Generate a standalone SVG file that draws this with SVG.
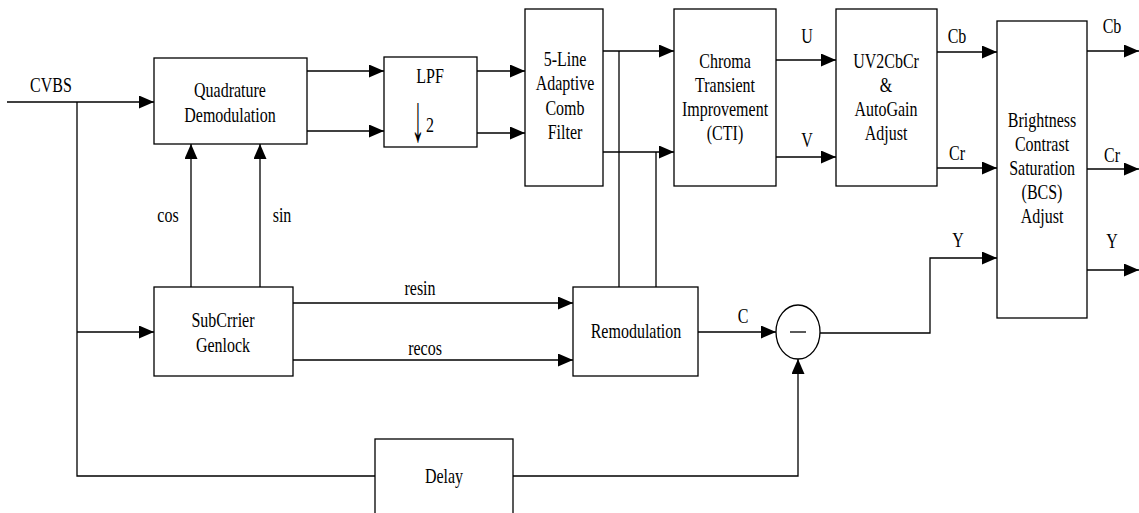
<svg xmlns="http://www.w3.org/2000/svg" width="1139" height="513" viewBox="0 0 1139 513">
<style>
.box{fill:#fff;stroke:#000;stroke-width:1.3}
.ln{fill:none;stroke:#000;stroke-width:1.3}
.arr{fill:none;stroke:#000;stroke-width:1.3;marker-end:url(#ah)}
text{font-family:"Liberation Serif","Times New Roman",serif;font-size:16px;fill:#000;text-anchor:middle}
.sym{font-size:52px}
</style>
<defs>
<marker id="ah" markerUnits="userSpaceOnUse" markerWidth="16" markerHeight="14" refX="15" refY="6.5" orient="auto">
<path d="M0,0 L15,6.5 L0,13 z" fill="#000"/>
</marker>
</defs>
<rect width="1139" height="513" fill="#fff"/>
<g id="connectors">
<path class="arr" d="M7,102 H154"/>
<path class="ln" d="M77,102 V476 H375"/>
<path class="arr" d="M77,332 H154"/>
<path class="arr" d="M513,476 H798 V359"/>
<path class="arr" d="M307,71 H384"/>
<path class="arr" d="M307,131 H384"/>
<path class="arr" d="M477,71 H525"/>
<path class="arr" d="M477,133 H525"/>
<path class="arr" d="M603,51 H674"/>
<path class="arr" d="M603,152 H674"/>
<path class="ln" d="M619,51 V287"/>
<path class="ln" d="M656,152 V287"/>
<path class="arr" d="M191,287 V144"/>
<path class="arr" d="M260,287 V144"/>
<path class="arr" d="M293,303 H573"/>
<path class="arr" d="M293,360 H573"/>
<path class="arr" d="M698,332 H776"/>
<path class="arr" d="M820,333 H930 V258 H997"/>
<path class="arr" d="M776,60 H836"/>
<path class="arr" d="M776,157 H836"/>
<path class="arr" d="M937,52 H997"/>
<path class="arr" d="M937,168 H997"/>
<path class="arr" d="M1087,51 H1139"/>
<path class="arr" d="M1087,169 H1139"/>
<path class="arr" d="M1087,270 H1139"/>
</g>
<g id="labels">
<text transform="translate(51,92) scale(1,1.3)">CVBS</text>
<text transform="translate(168,222) scale(1,1.3)">cos</text>
<text transform="translate(282,222) scale(1,1.3)">sin</text>
<text transform="translate(420,295) scale(1,1.3)">resin</text>
<text transform="translate(425,355) scale(1,1.3)">recos</text>
<text transform="translate(743,323) scale(1,1.3)">C</text>
<text transform="translate(807,43) scale(1,1.3)">U</text>
<text transform="translate(807,147) scale(1,1.3)">V</text>
<text transform="translate(957,43) scale(1,1.3)">Cb</text>
<text transform="translate(957,160) scale(1,1.3)">Cr</text>
<text transform="translate(958,247) scale(1,1.3)">Y</text>
<text transform="translate(1112,33) scale(1,1.3)">Cb</text>
<text transform="translate(1112,162) scale(1,1.3)">Cr</text>
<text transform="translate(1112,248) scale(1,1.3)">Y</text>
</g>
<g id="quadrature">
<rect class="box" x="154" y="58" width="153" height="86"/>
<text transform="translate(230,97) scale(1,1.3)">Quadrature</text>
<text transform="translate(230,122) scale(1,1.3)">Demodulation</text>
</g>
<g id="lpf">
<rect class="box" x="384" y="57" width="93" height="90"/>
<text transform="translate(430,83) scale(1,1.3)">LPF</text>
<text class="sym" transform="translate(418,141) scale(0.5,1.3)">↓&#xFE0E;</text>
<text transform="translate(430,132) scale(1,1.3)">2</text>
</g>
<g id="comb">
<rect class="box" x="525" y="9" width="78" height="177"/>
<text transform="translate(565,66) scale(1,1.3)">5-Line</text>
<text transform="translate(565,90) scale(1,1.3)">Adaptive</text>
<text transform="translate(565,115) scale(1,1.3)">Comb</text>
<text transform="translate(565,139) scale(1,1.3)">Filter</text>
</g>
<g id="cti">
<rect class="box" x="674" y="9" width="102" height="177"/>
<text transform="translate(725,68) scale(1,1.3)">Chroma</text>
<text transform="translate(725,92) scale(1,1.3)">Transient</text>
<text transform="translate(725,116) scale(1,1.3)">Improvement</text>
<text transform="translate(725,140) scale(1,1.3)">(CTI)</text>
</g>
<g id="uv2cbcr">
<rect class="box" x="836" y="9" width="101" height="177"/>
<text transform="translate(886,68) scale(1,1.3)">UV2CbCr</text>
<text transform="translate(886,92) scale(1,1.3)">&amp;</text>
<text transform="translate(886,116) scale(1,1.3)">AutoGain</text>
<text transform="translate(886,140) scale(1,1.3)">Adjust</text>
</g>
<g id="bcs">
<rect class="box" x="997" y="21" width="90" height="297"/>
<text transform="translate(1042,127) scale(1,1.3)">Brightness</text>
<text transform="translate(1042,151) scale(1,1.3)">Contrast</text>
<text transform="translate(1042,175) scale(1,1.3)">Saturation</text>
<text transform="translate(1042,199) scale(1,1.3)">(BCS)</text>
<text transform="translate(1042,223) scale(1,1.3)">Adjust</text>
</g>
<g id="subcarrier">
<rect class="box" x="154" y="287" width="139" height="89"/>
<text transform="translate(223,327) scale(1,1.3)">SubCrrier</text>
<text transform="translate(223,352) scale(1,1.3)">Genlock</text>
</g>
<g id="remodulation">
<rect class="box" x="573" y="287" width="125" height="89"/>
<text transform="translate(636,338) scale(1,1.3)">Remodulation</text>
</g>
<g id="subtractor">
<ellipse class="box" cx="798" cy="332" rx="22" ry="27"/>
<path class="ln" d="M790,332 H806"/>
</g>
<g id="delay">
<rect class="box" x="375" y="439" width="138" height="90"/>
<text transform="translate(444,483) scale(1,1.3)">Delay</text>
</g>
</svg>
